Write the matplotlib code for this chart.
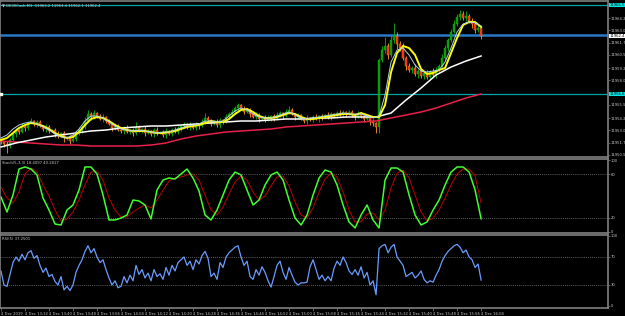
import numpy as np
import matplotlib
matplotlib.use("Agg")
import matplotlib.pyplot as plt

plt.rcParams['font.family'] = ['Liberation Sans Narrow', 'DejaVu Sans']

# M1 candles, 4 Dec 2019 13:24 .. 16:04
closes = [11951.8, 11951.6, 11951.4, 11952.0, 11952.6, 11953.0, 11952.8, 11953.4, 11953.2, 11953.7, 11953.9, 11953.6, 11953.8,
          11953.4, 11953.1, 11953.3, 11952.9, 11953.0, 11952.6, 11952.4, 11952.7, 11952.2, 11952.3, 11951.9, 11952.1,
          11952.6, 11953.0, 11953.3, 11953.9, 11954.6, 11954.3, 11954.7, 11954.4, 11954.1, 11954.3, 11953.9,
          11953.6, 11953.2, 11953.4, 11953.0, 11952.9, 11953.2, 11952.8, 11953.0, 11952.7, 11953.3, 11952.9, 11953.1, 11952.7,
          11952.9, 11952.6, 11953.0, 11952.7, 11952.8, 11952.5, 11952.9, 11952.6, 11953.0, 11952.8, 11953.2, 11953.4,
          11953.6, 11953.3, 11953.5, 11953.2, 11953.6, 11953.4, 11953.8, 11954.2, 11954.0, 11953.6, 11953.8, 11953.5, 11954.0,
          11953.8, 11954.3, 11954.6, 11954.8, 11955.2, 11955.5, 11955.1, 11954.8, 11955.0,
          11954.6, 11954.3, 11954.5, 11954.1, 11954.3, 11954.0, 11954.2, 11954.4, 11954.1, 11954.5, 11954.7, 11954.4, 11954.8,
          11955.0, 11954.6, 11954.3, 11954.5, 11954.1, 11953.9, 11954.2, 11954.0, 11954.3, 11954.1, 11954.4, 11954.2, 11954.5,
          11954.3, 11954.6, 11954.4, 11954.7, 11954.5, 11954.8, 11954.6, 11954.8,
          11954.5, 11954.3, 11954.6, 11954.4, 11954.1, 11954.3, 11953.9, 11953.7, 11953.3,
          11960.0, 11961.0, 11961.4, 11960.5, 11962.0, 11962.4, 11961.6, 11961.2, 11960.2, 11959.4,
          11959.0, 11959.2, 11958.6, 11958.9, 11958.4, 11958.7, 11958.3, 11958.8, 11958.5, 11959.0,
          11959.4, 11960.2, 11961.2, 11962.0, 11962.8, 11963.6, 11964.3, 11964.6,
          11964.2, 11964.4, 11963.9, 11963.6, 11963.0, 11963.2, 11962.4]
first_open = 11952.0
upper_wick = [0.2, 0.1, 0.3, 0.2, 0.3, 0.2, 0.1, 0.3, 0.2, 0.2, 0.3, 0.1, 0.2,
              0.2, 0.1, 0.3, 0.2, 0.1, 0.2, 0.3, 0.1, 0.2, 0.1, 0.2, 0.3,
              0.2, 0.3, 0.2, 0.4, 0.4, 0.2, 0.3, 0.1, 0.2, 0.3, 0.1,
              0.2, 0.1, 0.3, 0.2, 0.1, 0.2, 0.3, 0.1, 0.2, 0.5, 0.2, 0.1, 0.3, 0.2, 0.1, 0.2, 0.3, 0.1, 0.2, 0.3, 0.1, 0.2, 0.3, 0.2, 0.1,
              0.2, 0.1, 0.3, 0.2, 0.2, 0.1, 0.3, 0.5, 0.2, 0.1, 0.2, 0.3, 0.2, 0.1, 0.3, 0.2, 0.3, 0.2, 0.2, 0.1, 0.3, 0.2,
              0.2, 0.1, 0.3, 0.2, 0.1, 0.2, 0.3, 0.1, 0.2, 0.3, 0.2, 0.1, 0.3, 0.4, 0.2, 0.1, 0.2, 0.1, 0.2, 0.3, 0.1, 0.2,
              0.3, 0.1, 0.2, 0.1, 0.3, 0.2, 0.1, 0.2, 0.3, 0.2, 0.1, 0.2,
              0.2, 0.1, 0.3, 0.2, 0.1, 0.2, 0.1, 0.2, 0.1,
              0.2, 0.4, 0.9, 0.3, 0.5, 1.3, 0.4, 0.3, 0.5, 0.2,
              0.3, 0.2, 0.4, 0.2, 0.3, 0.2, 0.3, 0.2, 0.4, 0.3,
              0.2, 0.4, 0.3, 0.2, 0.3, 0.4, 0.3, 0.4,
              0.3, 0.5, 0.2, 0.3, 0.2, 0.4, 0.2]
lower_wick = [0.2, 0.3, 0.7, 0.2, 0.1, 0.3, 0.2, 0.1, 0.3, 0.2, 0.1, 0.2, 0.3,
              0.1, 0.2, 0.3, 0.2, 0.1, 0.3, 0.2, 0.1, 0.4, 0.2, 0.3, 0.1,
              0.2, 0.1, 0.3, 0.2, 0.1, 0.3, 0.2, 0.2, 0.1, 0.3, 0.2,
              0.1, 0.3, 0.2, 0.1, 0.2, 0.3, 0.1, 0.2, 0.3, 0.2, 0.1, 0.2, 0.3, 0.1, 0.2, 0.3, 0.2, 0.1, 0.2, 0.3, 0.1, 0.2, 0.1, 0.2, 0.3,
              0.1, 0.2, 0.3, 0.1, 0.2, 0.3, 0.1, 0.2, 0.3, 0.2, 0.1, 0.2, 0.3, 0.2, 0.1, 0.2, 0.1, 0.2, 0.3, 0.1, 0.2, 0.1,
              0.3, 0.1, 0.2, 0.3, 0.1, 0.2, 0.1, 0.3, 0.2, 0.1, 0.2, 0.3, 0.1, 0.2, 0.1, 0.3, 0.2, 0.1, 0.2, 0.3, 0.1, 0.2,
              0.1, 0.3, 0.2, 0.1, 0.2, 0.3, 0.1, 0.2, 0.1, 0.2, 0.3, 0.1,
              0.2, 0.3, 0.1, 0.2, 0.3, 0.1, 0.4, 0.3, 0.6,
              0.6, 0.2, 0.3, 0.4, 0.2, 0.3, 0.5, 0.3, 0.2, 0.4,
              0.2, 0.3, 0.2, 0.4, 0.2, 0.3, 0.2, 0.3, 0.2, 0.3,
              0.2, 0.1, 0.2, 0.3, 0.2, 0.1, 0.2, 0.3,
              0.2, 0.3, 0.2, 0.4, 0.3, 0.2, 0.3]

# moving averages, sampled every 2 candles (yellow, light blue) and every 5 (white, red)
ma_yellow = [11952.0, 11952.2, 11952.7, 11953.2, 11953.5, 11953.7, 11953.6, 11953.4, 11953.1, 11952.7,
             11952.4, 11952.2, 11952.3, 11952.8, 11953.5, 11954.1, 11954.3, 11954.2, 11953.9, 11953.5,
             11953.2, 11953.0, 11952.9, 11952.9, 11952.9, 11952.8, 11952.7, 11952.7, 11952.8, 11952.9,
             11953.1, 11953.3, 11953.4, 11953.5, 11953.7, 11953.9, 11953.8, 11953.8, 11954.1, 11954.6,
             11955.0, 11955.1, 11954.8, 11954.4, 11954.2, 11954.2, 11954.3, 11954.5, 11954.7, 11954.6,
             11954.3, 11954.1, 11954.1, 11954.2, 11954.3, 11954.4, 11954.5, 11954.6, 11954.6, 11954.5,
             11954.7, 11954.5, 11954.3, 11954.3, 11955.5, 11958.8, 11960.7, 11961.4, 11961.2, 11960.5,
             11959.1, 11958.6, 11958.7, 11959.0, 11959.2, 11960.7, 11962.2, 11963.5, 11963.8, 11963.8,
             11963.3]
ma_blue = [11952.2, 11952.5, 11953.1, 11953.5, 11953.7, 11953.8, 11953.6, 11953.3, 11953.0, 11952.6,
           11952.3, 11952.2, 11952.5, 11953.1, 11953.9, 11954.4, 11954.4, 11954.2, 11953.8, 11953.4,
           11953.1, 11953.0, 11952.9, 11953.0, 11952.9, 11952.8, 11952.7, 11952.8, 11952.8, 11953.0,
           11953.2, 11953.4, 11953.5, 11953.6, 11953.9, 11953.9, 11953.8, 11953.9, 11954.4, 11954.9,
           11955.2, 11955.0, 11954.6, 11954.3, 11954.2, 11954.2, 11954.4, 11954.6, 11954.8, 11954.5,
           11954.2, 11954.1, 11954.2, 11954.3, 11954.4, 11954.5, 11954.6, 11954.7, 11954.6, 11954.6,
           11954.6, 11954.4, 11954.2, 11954.4, 11956.5, 11959.8, 11961.0, 11961.2, 11960.5, 11959.5,
           11958.9, 11958.8, 11958.9, 11959.0, 11959.8, 11961.2, 11962.8, 11963.6, 11963.8, 11963.7,
           11963.4]
ma_white = [11951.3, 11951.7, 11952.0, 11952.3, 11952.5, 11952.7, 11952.9, 11953.0, 11953.2, 11953.3,
            11953.4, 11953.4, 11953.5, 11953.6, 11953.7, 11953.8, 11953.9, 11953.9, 11954.0, 11954.1,
            11954.1, 11954.2, 11954.2, 11954.3, 11954.3, 11954.3, 11954.7, 11956.0, 11957.2, 11958.5,
            11959.3, 11959.9, 11960.4]
ma_red = [11951.9, 11951.8, 11951.7, 11951.6, 11951.5, 11951.5, 11951.4, 11951.4, 11951.4, 11951.4,
          11951.5, 11951.7, 11952.1, 11952.4, 11952.6, 11952.8, 11952.9, 11953.0, 11953.1, 11953.3,
          11953.4, 11953.5, 11953.6, 11953.7, 11953.8, 11953.9, 11954.2, 11954.5, 11954.8, 11955.2,
          11955.7, 11956.2, 11956.6]

# stochastic main / signal, every 2 candles
stoch_k = [48.6, 27.8, 51.4, 87.5, 90.3, 87.5, 79.2, 47.2, 30.6, 11.1, 9.7, 30.6, 37.5, 58.3, 90.3, 90.3, 80.6, 51.4,
           16.7, 16.7, 19.4, 23.6, 44.4, 43.1, 37.5, 18.1, 58.3, 72.2, 75.0, 73.6, 80.6, 87.5, 75.0, 56.9, 23.6, 16.7,
           30.6, 51.4, 72.2, 83.3, 79.2, 58.3, 37.5, 44.4, 65.3, 79.2, 83.3, 72.2, 44.4, 19.4, 9.7, 23.6, 51.4, 75.0,
           86.1, 83.3, 65.3, 37.5, 13.9, 5.6, 23.6, 37.5, 16.7, 5.6, 72.2, 88.9, 88.9, 83.3, 51.4, 23.6, 9.7, 13.9,
           30.6, 44.4, 65.3, 83.3, 90.3, 90.3, 83.3, 58.3, 18.4]
stoch_d = [62.5, 47.2, 40.3, 55.6, 80.6, 88.9, 83.3, 65.3, 50.0, 30.6, 15.3, 18.1, 27.8, 44.4, 65.3, 83.3, 84.7, 72.2,
           47.2, 30.6, 20.8, 20.8, 27.8, 33.3, 37.5, 33.3, 44.4, 58.3, 70.8, 75.0, 76.4, 79.2, 80.6, 72.2, 51.4, 30.6,
           23.6, 34.7, 52.8, 69.4, 77.8, 72.2, 55.6, 44.4, 50.0, 63.9, 76.4, 77.8, 63.9, 41.7, 23.6, 19.4, 33.3, 55.6,
           73.6, 81.9, 76.4, 55.6, 30.6, 13.9, 13.9, 25.0, 26.4, 16.7, 30.6, 61.1, 81.9, 86.1, 75.0, 51.4, 27.8, 15.3,
           19.4, 30.6, 47.2, 65.3, 80.6, 87.5, 87.5, 77.8, 40.3]

rsi = [50, 30, 28, 45, 62, 70, 64, 74, 66, 76, 79, 68, 72,
       58, 48, 54, 42, 45, 35, 30, 42, 23, 28, 22, 30,
       48, 58, 66, 78, 86, 76, 82, 70, 62, 66, 52,
       40, 30, 36, 26, 28, 42, 33, 44, 36, 58, 45, 52, 40, 47, 36, 52, 42, 46, 38, 55, 44, 58, 50, 62, 66,
       70, 58, 64, 52, 66, 60, 72, 78, 68, 42, 47, 38, 62, 55, 70, 76, 80, 84, 86, 70, 58, 64,
       42, 38, 52, 44, 56, 48, 36, 27, 42, 58, 64, 48, 38, 55, 44, 34, 30, 33, 33, 34, 56, 66, 52, 38,
       44, 36, 42, 36, 54, 64, 58, 70, 62, 50,
       45, 52, 44, 56, 40, 48, 30, 36, 16,
       82, 86, 88, 76, 84, 88, 70, 64, 58, 42,
       45, 48, 40, 44, 50, 38, 33, 36, 34, 44,
       52, 64, 72, 78, 82, 86, 88, 84,
       76, 80, 70, 66, 55, 60, 37]

time_labels = ["4 Dec 2019", "4 Dec 13:32", "4 Dec 13:40", "4 Dec 13:48", "4 Dec 13:56", "4 Dec 14:04",
               "4 Dec 14:12", "4 Dec 14:20", "4 Dec 14:28", "4 Dec 14:36", "4 Dec 14:44", "4 Dec 14:52",
               "4 Dec 15:00", "4 Dec 15:08", "4 Dec 15:16", "4 Dec 15:24", "4 Dec 15:32", "4 Dec 15:40",
               "4 Dec 15:48", "4 Dec 15:56", "4 Dec 16:04"]
price_ticks = [11964.2, 11963.0, 11961.7, 11960.5, 11959.2, 11958.0, 11955.5, 11954.2, 11953.0, 11951.7, 11950.5]
level_top = 11965.5
level_blue = 11962.5
level_low = 11956.6

BG = "black"
GRID = "#808080"
TXT = "#c8c8c8"
FS = 2.7

closes = np.array(closes)
opens = np.array([first_open] + list(closes[:-1]))
highs = np.maximum(opens, closes) + np.array(upper_wick)
lows = np.minimum(opens, closes) - np.array(lower_wick)
idx = np.arange(len(closes))
idx2 = idx[::2]
idx5 = idx[::5]
xlim = (-0.33, 202.3)

fig = plt.figure(figsize=(6.25, 3.16), dpi=100, facecolor=BG)
W = 608 / 625
ax = fig.add_axes([0, 1 - 157 / 316, W, 156 / 316], facecolor=BG)
ax2 = fig.add_axes([0, 1 - 233 / 316, W, 74 / 316], facecolor=BG)
ax3 = fig.add_axes([0, 1 - 308 / 316, W, 73 / 316], facecolor=BG)

for a in (ax, ax2, ax3):
    a.set_xlim(*xlim)
    for s in a.spines.values():
        s.set_color(GRID)
        s.set_linewidth(1.2)
    a.yaxis.tick_right()
    a.tick_params(axis="y", colors=GRID, labelcolor=TXT, labelsize=FS, length=1.2, width=0.5, pad=0.5)
    a.tick_params(axis="x", bottom=False, labelbottom=False)

# main price panel
ax.set_ylim(11950.3, 11965.9)
ax.axhline(level_top, color="#00a5a5", lw=0.9, zorder=1)
ax.axhline(level_blue, color="#2a78c8", lw=1.8, zorder=1)
ax.axhline(level_low, color="#00a5a5", lw=0.9, zorder=1)

bull = closes >= opens
body_col = np.where(bull, "#0a9a0a", "#ff1a1a")
edge_col = np.where(bull, "#10b010", "#ffa020")
ax.vlines(idx, lows, highs, colors=edge_col, lw=0.6, zorder=2)
ax.bar(idx, closes - opens, bottom=opens, width=0.7, color=body_col, edgecolor=edge_col, linewidth=0.3, zorder=2)

ax.plot(idx5, ma_red, color="#e8204a", lw=1.1, zorder=3)
ax.plot(idx5, ma_white, color="white", lw=1.1, zorder=3)
ax.plot(idx2, ma_yellow, color="#ffff00", lw=1.4, zorder=4)
ax.plot(idx2, ma_blue, color="#b0d0e8", lw=0.7, zorder=5)
ax.plot([xlim[0] + 0.3], [level_low], marker="s", ms=1.6, color="white", zorder=6)

ax.set_yticks(price_ticks)
ax.set_yticklabels([f"{p:.1f}" for p in price_ticks])
for val, fc in ((level_top, "#00e5e5"), (level_low, "#00e5e5"), (closes[-1], "white")):
    ax.annotate(f"{val:.1f}", xy=(1.0, val), xycoords=("axes fraction", "data"), xytext=(0.8, 0),
                textcoords="offset points", va="center", ha="left", fontsize=FS, color="black",
                bbox=dict(boxstyle="square,pad=0.08", fc=fc, ec="none"))
ax.text(0.004, 0.985, "\u25bc DE30Cash,M1  11963.2 11963.4 11962.1 11962.4", transform=ax.transAxes,
        fontsize=FS, color=TXT, va="top", ha="left")

# stochastic
ax2.set_ylim(-1.4, 101.4)
ax2.axhline(80, color=GRID, lw=0.6, ls=(0, (1, 1.5)))
ax2.axhline(20, color=GRID, lw=0.6, ls=(0, (1, 1.5)))
ax2.plot(idx2, stoch_d, color="#c00000", lw=0.7)
ax2.plot(idx2, stoch_k, color="#40ff30", lw=1.1)
ax2.set_yticks([100, 80, 20, 0])
ax2.set_yticklabels(["100", "80", "20", "0"])
ax2.text(0.004, 0.97, "Stoch(5,3,3) 18.4097 40.2817", transform=ax2.transAxes,
         fontsize=FS, color=TXT, va="top", ha="left")

# RSI
ax3.set_ylim(-2.9, 101.4)
ax3.axhline(70, color=GRID, lw=0.6, ls=(0, (1, 1.5)))
ax3.axhline(30, color=GRID, lw=0.6, ls=(0, (1, 1.5)))
ax3.plot(idx, rsi, color="#6a9cff", lw=0.9)
ax3.set_yticks([100, 70, 30, 0])
ax3.set_yticklabels(["100", "70", "30", "0"])
ax3.text(0.004, 0.97, "RSI(5) 37.2501", transform=ax3.transAxes,
         fontsize=FS, color=TXT, va="top", ha="left")

ax3.tick_params(axis="x", bottom=True, labelbottom=True, colors=GRID, labelcolor=TXT,
                labelsize=FS, length=2.5, width=0.5, pad=0.3)
ax3.set_xticks(idx[::8])
ax3.set_xticklabels(time_labels)
for lab in ax3.get_xticklabels():
    lab.set_ha("left")

fig.savefig("out.png", dpi=100, facecolor=BG)
